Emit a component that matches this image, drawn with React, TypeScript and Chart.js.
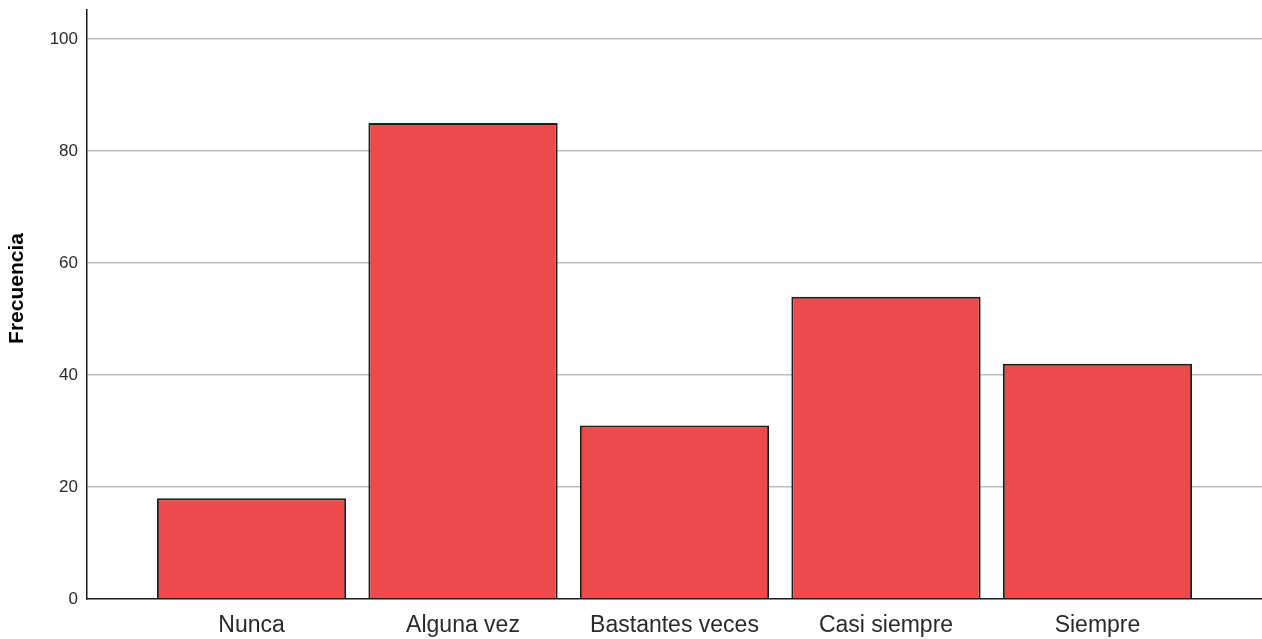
import React, { useEffect, useRef } from "react";
import { Chart, registerables } from "chart.js";

Chart.register(...registerables);

const categories = ["Nunca", "Alguna vez", "Bastantes veces", "Casi siempre", "Siempre"];
const frequencies = [18, 85, 31, 54, 42];
const yTickValues = [0, 20, 40, 60, 80, 100];
const yTitle = "Frecuencia";

const FONT = "'Liberation Sans', Arial, Helvetica, sans-serif";

const titlePlugin = {
  id: "yTitlePlugin",
  afterDraw(chart: any) {
    const ctx = chart.ctx;
    const area = chart.chartArea;
    ctx.save();
    ctx.translate(17, (area.top + area.bottom) / 2 - 16);
    ctx.rotate(-Math.PI / 2);
    ctx.font = `bold 21px ${FONT}`;
    ctx.fillStyle = "#000000";
    ctx.textAlign = "center";
    ctx.textBaseline = "middle";
    ctx.fillText(yTitle, 0, 0);
    ctx.restore();
  },
};

export default function App() {
  const canvasRef = useRef<HTMLCanvasElement | null>(null);

  useEffect(() => {
    if (!canvasRef.current) return;
    const points = frequencies.map((v, i) => ({ x: i + 1, y: v }));
    const chart = new Chart(canvasRef.current, {
      type: "bar",
      data: {
        datasets: [
          {
            data: points as any,
            backgroundColor: "#EC4A4B",
            borderColor: "#1e1e1e",
            borderWidth: 2,
            barPercentage: 0.895,
            categoryPercentage: 1,
          },
        ],
      },
      plugins: [titlePlugin],
      options: {
        responsive: false,
        animation: false,
        layout: { padding: { top: 10, left: 0, right: 0, bottom: 0 } },
        plugins: {
          legend: { display: false },
          tooltip: { enabled: false },
        },
        scales: {
          x: {
            type: "linear",
            min: 0.222,
            max: 5.778,
            offset: false,
            afterFit(scale: any) {
              scale.height = 40;
              scale.paddingLeft = 0;
              scale.paddingRight = 0;
            },
            afterBuildTicks(scale: any) {
              scale.ticks = categories.map((_, i) => ({ value: i + 1 }));
            },
            grid: { display: false, drawTicks: false, offset: false },
            border: { display: true, color: "#1a1a1a", width: 1.5 },
            ticks: {
              padding: 13,
              autoSkip: false,
              maxRotation: 0,
              color: "#2a2a2a",
              font: { family: FONT, size: 23 },
              callback: (v: any) => categories[Math.round(Number(v)) - 1] ?? "",
            },
          },
          y: {
            type: "linear",
            min: 0,
            max: 105.2,
            afterFit(scale: any) {
              scale.width = 87;
              scale.paddingTop = 0;
              scale.paddingBottom = 0;
            },
            afterBuildTicks(scale: any) {
              scale.ticks = yTickValues.map((v) => ({ value: v }));
            },
            grid: {
              drawTicks: false,
              lineWidth: 1.5,
              color: (ctx: any) => (ctx.tick && ctx.tick.value === 0 ? "rgba(0,0,0,0)" : "#bdbdbd"),
            },
            border: { display: true, color: "#1a1a1a", width: 1.5 },
            ticks: {
              padding: 9,
              color: "#2a2a2a",
              font: { family: FONT, size: 17 },
            },
          },
        },
      },
    });
    return () => chart.destroy();
  }, []);

  return (
    <div style={{ position: "absolute", left: 0, top: 0, width: 1262, height: 639, background: "#ffffff" }}>
      <canvas ref={canvasRef} width={1262} height={639} style={{ width: 1262, height: 639, display: "block" }} />
    </div>
  );
}
